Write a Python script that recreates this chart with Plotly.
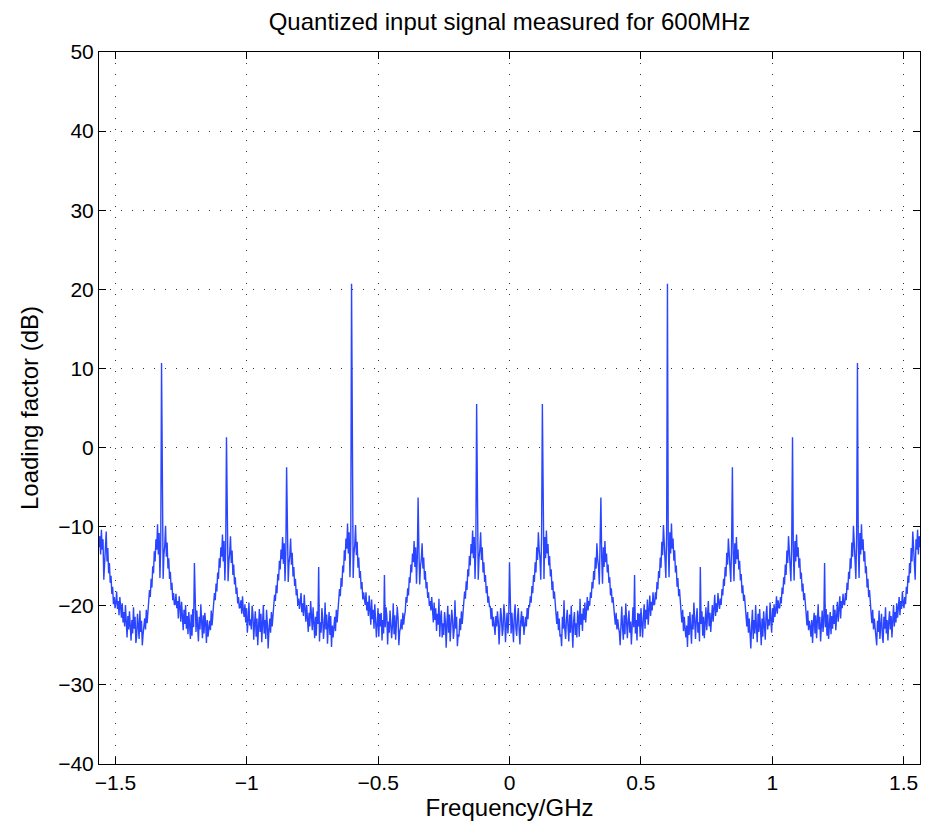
import numpy as np
import plotly.graph_objects as go

# Two-sided spectrum is symmetric about 0 GHz: values below are read for 0 .. 1.5625 GHz
# (513 frequency bins), split into the segments between the spectral lines.
nyquist_ghz = 1.5625

dc_line = [-14.5]
valley_0 = [-21.8, -23.5, -20.9, -22.4, -24.6, -21.2, -19.8, -22.9, -23.8, -21.5,
            -20.3, -23.1, -24.9, -22.0, -20.7, -22.6, -21.3, -23.7, -22.9, -21.4,
            -22.6, -20.3, -21.7, -20.1]
rise_125 = [-20.1, -18.8, -19.6, -17.5, -18.4, -16.1, -17.0, -14.5, -15.8, -12.6,
            -14.2, -10.7, -12.9, -14.0, -16.7, -11.5]
line_125 = [5.5]
fall_125 = [-12.8, -16.6, -11.3, -14.0, -10.5, -13.4, -12.2, -14.9, -13.7, -16.3,
            -15.4, -18.0, -16.9, -19.1, -18.2, -20.3]
valley_1 = [-21.0, -22.3, -20.7, -23.1, -21.6, -23.9, -23.6, -25.1, -21.4, -22.9,
            -19.3, -23.0, -24.2, -21.8, -20.5, -22.7, -24.5, -21.1, -23.4, -20.0,
            -22.3, -25.3, -21.9, -20.8, -23.7, -22.2, -24.0, -20.6, -21.5, -23.9,
            -19.1, -22.4, -21.0, -23.2, -20.3, -21.8, -19.6, -22.1, -20.7, -18.9]
rise_350 = [-20.6, -19.4, -20.0, -18.3, -19.0, -17.0, -17.8, -15.6, -16.7, -13.9,
            -15.3, -12.1, -14.1, -15.0, -17.3, -12.8]
line_350 = [-6.3]
fall_350 = [-13.9, -17.2, -12.6, -15.1, -11.8, -14.5, -13.4, -15.8, -14.8, -17.1,
            -16.4, -18.7, -17.8, -19.6, -18.9, -20.7]
valley_2 = [-21.3, -22.4, -20.9, -23.0, -21.7, -22.8, -23.3, -25.0, -21.6, -20.1,
            -22.8, -24.3, -21.2, -23.6, -19.7, -22.5, -24.1, -21.9, -20.6, -23.4,
            -22.0, -24.9, -21.3, -20.2, -22.7, -16.1, -23.5, -21.8, -24.4, -20.9,
            -22.6, -21.0, -23.9, -20.3, -22.2, -24.0, -21.4, -19.8, -22.9, -20.5,
            -21.7, -19.2, -22.4, -20.1, -18.7, -21.3, -19.5, -20.6, -18.3, -19.9]
rise_600 = [-19.8, -18.3, -19.2, -17.0, -17.9, -15.6, -16.5, -13.9, -15.2, -11.9,
            -13.6, -9.8, -12.3, -13.4, -16.5, -10.9]
line_600 = [20.7]
fall_600 = [-12.2, -16.4, -10.7, -13.4, -9.6, -12.8, -11.5, -14.3, -13.0, -15.8,
            -14.9, -17.6, -16.5, -18.8, -17.9, -20.0]
valley_3 = [-20.8, -22.1, -20.5, -23.2, -21.4, -22.9, -24.0, -22.5, -25.2, -21.3,
            -23.7, -20.8, -22.4, -24.8, -21.1, -23.0, -19.6, -22.7, -24.2, -21.6,
            -20.3, -23.4, -22.1, -24.5, -15.1, -22.3, -20.7, -23.8, -21.4, -24.1,
            -22.0, -20.2, -23.1, -21.7, -19.4, -22.6, -20.9, -23.3, -21.2, -19.9,
            -22.0, -20.4, -18.6, -21.3, -19.7, -20.8, -18.4, -19.6]
rise_850 = [-20.4, -19.1, -19.9, -17.9, -18.7, -16.6, -17.5, -15.1, -16.3, -13.3,
            -14.8, -11.5, -13.6, -14.6, -17.0, -12.3]
line_850 = [-2.5]
fall_850 = [-13.4, -16.9, -12.1, -14.7, -11.3, -14.1, -12.9, -15.4, -14.3, -16.8,
            -16.0, -18.4, -17.4, -19.4, -18.6, -20.5]
valley_4 = [-21.2, -22.6, -20.8, -23.4, -21.6, -23.0, -25.4, -22.4, -20.5, -24.2,
            -21.8, -23.5, -19.9, -22.7, -24.6, -21.0, -23.3, -20.4, -22.8, -25.0,
            -21.6, -23.9, -20.7, -22.2, -24.3, -21.1, -20.0, -23.0, -21.7, -22.5,
            -19.6, -21.9, -23.4, -20.3, -22.1, -19.8, -21.4, -20.6, -18.8, -21.0,
            -19.3, -20.2]
rise_1075 = [-20.3, -18.9, -19.7, -17.7, -18.5, -16.4, -17.3, -14.8, -16.1, -13.0,
             -14.6, -11.2, -13.4, -14.4, -16.9, -12.0]
line_1075 = [1.3]
fall_1075 = [-13.2, -16.8, -11.8, -14.4, -11.0, -13.8, -12.6, -15.2, -14.0, -16.6,
             -15.8, -18.2, -17.2, -19.3, -18.4, -20.4]
valley_5 = [-21.0, -22.5, -20.6, -23.1, -21.9, -22.7, -23.9, -21.8, -24.7, -22.1,
            -20.9, -23.5, -21.2, -24.1, -22.4, -19.8, -23.0, -21.4, -24.5, -22.2,
            -20.6, -23.3, -21.9, -14.6, -22.7, -20.4, -23.8, -21.1, -24.2, -22.5,
            -20.8, -23.6, -21.3, -22.9, -19.9, -22.3, -20.5, -23.1, -21.0, -19.5,
            -22.0, -20.1, -18.8, -21.6, -19.4, -20.3, -18.5, -19.8]
rise_1325 = [-19.9, -18.4, -19.3, -17.1, -18.0, -15.7, -16.6, -14.0, -15.3, -12.0,
             -13.8, -9.9, -12.4, -13.5, -16.6, -11.0]
line_1325 = [10.7]
fall_1325 = [-12.3, -16.5, -10.8, -13.5, -9.7, -12.9, -11.6, -14.4, -13.1, -15.9,
             -15.0, -17.7, -16.6, -18.9, -18.0, -20.1]
valley_6 = [-20.9, -22.2, -20.5, -23.0, -21.6, -22.8, -23.6, -25.0, -21.9, -23.3,
            -20.6, -24.2, -22.5, -21.0, -23.8, -24.7, -21.4, -22.9, -20.2, -23.5,
            -21.8, -24.4, -22.0, -20.7, -23.0, -21.3, -24.0, -21.6, -19.9, -22.6,
            -20.8, -22.1, -19.7, -21.5, -20.3, -18.9, -21.2, -19.4, -20.4, -18.2,
            -19.6]
rise_edge = [-20.3, -18.9, -19.8, -17.6, -18.5, -16.2, -17.1, -14.6, -15.9, -12.7,
             -14.4, -10.6, -13.0, -14.1, -16.7, -11.6, -12.9, -10.4, -13.5, -11.2,
             -12.6]

x_ticks = [-1.5, -1, -0.5, 0, 0.5, 1, 1.5]
y_ticks = [-40, -30, -20, -10, 0, 10, 20, 30, 40, 50]

half_db = np.array(
    dc_line + valley_0 + rise_125 + line_125 + fall_125 + valley_1
    + rise_350 + line_350 + fall_350 + valley_2
    + rise_600 + line_600 + fall_600 + valley_3
    + rise_850 + line_850 + fall_850 + valley_4
    + rise_1075 + line_1075 + fall_1075 + valley_5
    + rise_1325 + line_1325 + fall_1325 + valley_6 + rise_edge
)
half_f = np.linspace(0, nyquist_ghz, len(half_db))
freq = np.concatenate([-half_f[:0:-1], half_f])
level = np.concatenate([half_db[:0:-1], half_db])

FONT = "Liberation Sans"

fig = go.Figure()
fig.add_trace(go.Scatter(x=freq, y=level, mode="lines",
                         line=dict(color="#2a45ff", width=1.4)))

axis_common = dict(
    showline=True, linecolor="black", linewidth=1, mirror="ticks",
    ticks="inside", ticklen=7, tickcolor="black", tickwidth=1,
    showgrid=True, gridcolor="#333333", gridwidth=1, griddash="1px,10px",
    zeroline=False, tickfont=dict(family=FONT, size=21, color="black"),
)

# page body has an 8px margin, so the figure is sized to fit inside it
fig.update_layout(
    width=926, height=817,
    paper_bgcolor="white", plot_bgcolor="white",
    margin=dict(l=91, r=14, t=44, b=61),
    showlegend=False,
    title=dict(text="Quantized input signal measured for 600MHz",
               x=0.5, xref="paper", y=0.983, yref="container", yanchor="middle",
               font=dict(family=FONT, size=24, color="black")),
    xaxis=dict(range=[-nyquist_ghz, nyquist_ghz], tickvals=x_ticks,
               title=dict(text="Frequency/GHz", standoff=3,
                          font=dict(family=FONT, size=24, color="black")),
               **axis_common),
    yaxis=dict(range=[-40, 50], tickvals=y_ticks,
               title=dict(text="Loading factor (dB)", standoff=12,
                          font=dict(family=FONT, size=24, color="black")),
               **axis_common),
)

fig.write_html("out.html")
